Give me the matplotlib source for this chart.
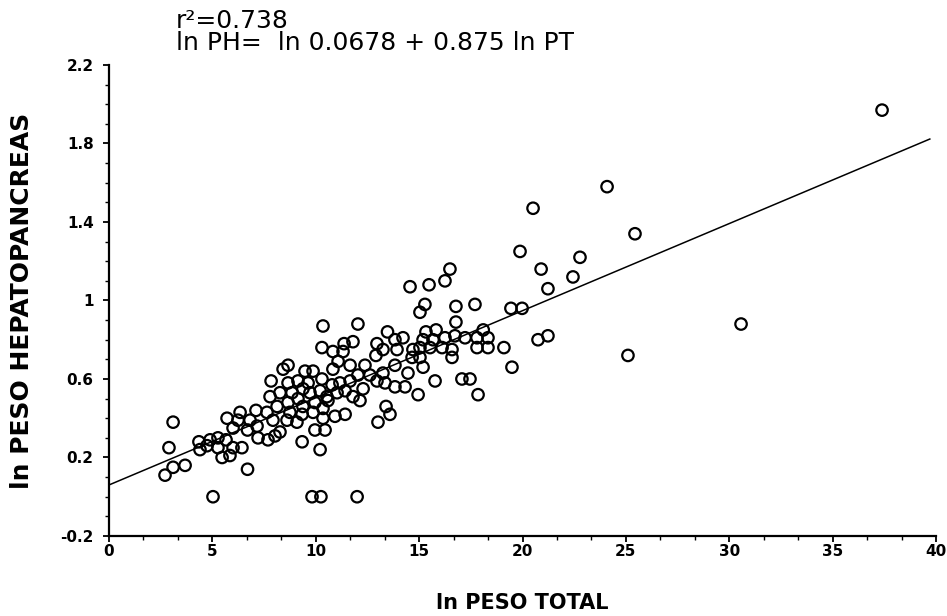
import matplotlib
matplotlib.use("Agg")
import matplotlib.pyplot as plt
import numpy as np
from matplotlib.ticker import MultipleLocator, AutoMinorLocator

# points (ln peso total, ln peso hepatopancreas)
peso_total = [
    3.10, 2.90, 5.71, 6.34, 6.24, 7.11, 7.64, 8.13, 6.82, 7.16,
    7.93, 6.00, 6.70, 7.21, 7.69, 8.03, 4.35, 4.40, 4.89, 5.27,
    5.27, 5.66, 6.00, 6.43, 5.47, 5.85, 4.74, 3.68, 3.10, 2.71,
    6.70, 5.03, 7.84, 7.79, 8.42, 8.66,
    10.35, 12.04, 13.47, 10.30, 11.37, 11.80, 10.83, 11.32, 12.96, 13.25,
    12.91, 9.48, 9.87, 10.30, 10.83, 11.08, 11.66, 12.38, 12.04, 12.62,
    13.25, 12.96, 11.66, 11.17, 10.79, 8.66, 9.14, 9.63, 9.38, 8.85,
    8.27, 9.14, 9.72, 10.21, 10.54, 11.03, 11.42, 11.80, 12.29, 12.14,
    8.66, 8.75, 9.38, 9.96, 10.35, 9.87, 9.34, 8.61, 9.09, 10.35,
    10.93, 11.42, 10.59, 13.40, 13.01, 13.59, 9.96, 10.45, 8.27, 9.34,
    10.21, 9.82, 10.25, 12.00,
    16.49, 16.25, 15.48, 14.56, 15.28, 15.04, 16.78, 17.70, 16.78, 13.83,
    14.22, 13.93, 15.33, 15.82, 15.19, 15.67, 16.25, 16.73, 17.22, 17.80,
    18.10, 18.33, 17.80, 18.33, 15.04, 15.53, 16.11, 16.59, 16.59, 14.70,
    14.66, 15.04, 13.83, 15.19, 14.46, 15.77, 17.07, 17.46, 17.85, 13.35,
    13.83, 14.32, 14.95,
    19.88, 22.78, 20.90, 22.44, 21.23, 19.44, 19.98, 19.10, 19.49, 20.75,
    21.23, 25.10, 20.51, 24.09, 25.44, 30.57, 37.39,
]
peso_hepato = [
    0.38, 0.25, 0.40, 0.43, 0.39, 0.44, 0.43, 0.46, 0.39, 0.36,
    0.39, 0.35, 0.34, 0.30, 0.29, 0.31, 0.28, 0.24, 0.29, 0.30,
    0.25, 0.29, 0.25, 0.25, 0.20, 0.21, 0.26, 0.16, 0.15, 0.11,
    0.14, 0.00, 0.59, 0.51, 0.65, 0.67,
    0.87, 0.88, 0.84, 0.76, 0.78, 0.79, 0.74, 0.74, 0.78, 0.75,
    0.72, 0.64, 0.64, 0.60, 0.65, 0.69, 0.67, 0.67, 0.62, 0.62,
    0.63, 0.59, 0.59, 0.58, 0.57, 0.58, 0.59, 0.58, 0.55, 0.53,
    0.53, 0.50, 0.53, 0.54, 0.51, 0.53, 0.54, 0.51, 0.55, 0.49,
    0.48, 0.43, 0.46, 0.48, 0.45, 0.43, 0.42, 0.39, 0.38, 0.40,
    0.41, 0.42, 0.49, 0.46, 0.38, 0.42, 0.34, 0.34, 0.33, 0.28,
    0.24, 0.00, 0.00, 0.00,
    1.16, 1.10, 1.08, 1.07, 0.98, 0.94, 0.97, 0.98, 0.89, 0.80,
    0.81, 0.75, 0.84, 0.85, 0.80, 0.80, 0.81, 0.82, 0.81, 0.81,
    0.85, 0.81, 0.76, 0.76, 0.76, 0.76, 0.76, 0.75, 0.71, 0.75,
    0.71, 0.71, 0.67, 0.66, 0.63, 0.59, 0.60, 0.60, 0.52, 0.58,
    0.56, 0.56, 0.52,
    1.25, 1.22, 1.16, 1.12, 1.06, 0.96, 0.96, 0.76, 0.66, 0.80,
    0.82, 0.72, 1.47, 1.58, 1.34, 0.88, 1.97,
]

# fitted line as drawn on the chart
intercept = 0.06
slope = 0.0444
line_x = [0, 39.7]

fig = plt.figure(figsize=(9.47, 6.16), dpi=100)
ax = fig.add_axes([0.1151, 0.1299, 0.8733, 0.7646])

lx = np.array(line_x)
ax.plot(lx, intercept + slope * lx, color='black', linewidth=1.1, zorder=2)
ax.scatter(peso_total, peso_hepato, s=68, facecolors='none', edgecolors='black',
           linewidths=1.6, zorder=3)

ax.set_xlim(0, 40)
ax.set_ylim(-0.2, 2.2)
ax.xaxis.set_major_locator(MultipleLocator(5))
ax.xaxis.set_minor_locator(AutoMinorLocator(3))
ax.set_yticks([-0.2, 0.2, 0.6, 1.0, 1.4, 1.8, 2.2])
ax.set_yticklabels(['-0.2', '0.2', '0.6', '1', '1.4', '1.8', '2.2'])
ax.yaxis.set_minor_locator(MultipleLocator(0.1))

for side in ['top', 'right']:
    ax.spines[side].set_visible(False)
for side in ['left', 'bottom']:
    ax.spines[side].set_linewidth(1.6)

ax.tick_params(which='major', direction='out', length=4, width=1.3,
               labelsize=11)
ax.tick_params(axis='x', which='major', pad=2)
ax.tick_params(axis='y', which='major', pad=7)
ax.tick_params(which='minor', direction='out', length=3, width=1.0)
for lab in ax.get_xticklabels() + ax.get_yticklabels():
    lab.set_fontweight('bold')

ax.set_xlabel('ln PESO TOTAL', fontsize=15, fontweight='bold', labelpad=24)
ax.set_ylabel('ln PESO HEPATOPANCREAS', fontsize=18, fontweight='bold',
              labelpad=19)

fig.text(0.186, 0.9545, 'r²=0.738', fontsize=18, va='baseline', ha='left')
fig.text(0.186, 0.9188, 'ln PH=  ln 0.0678 + 0.875 ln PT', fontsize=18,
         va='baseline', ha='left')

fig.savefig('out.png', dpi=100)
